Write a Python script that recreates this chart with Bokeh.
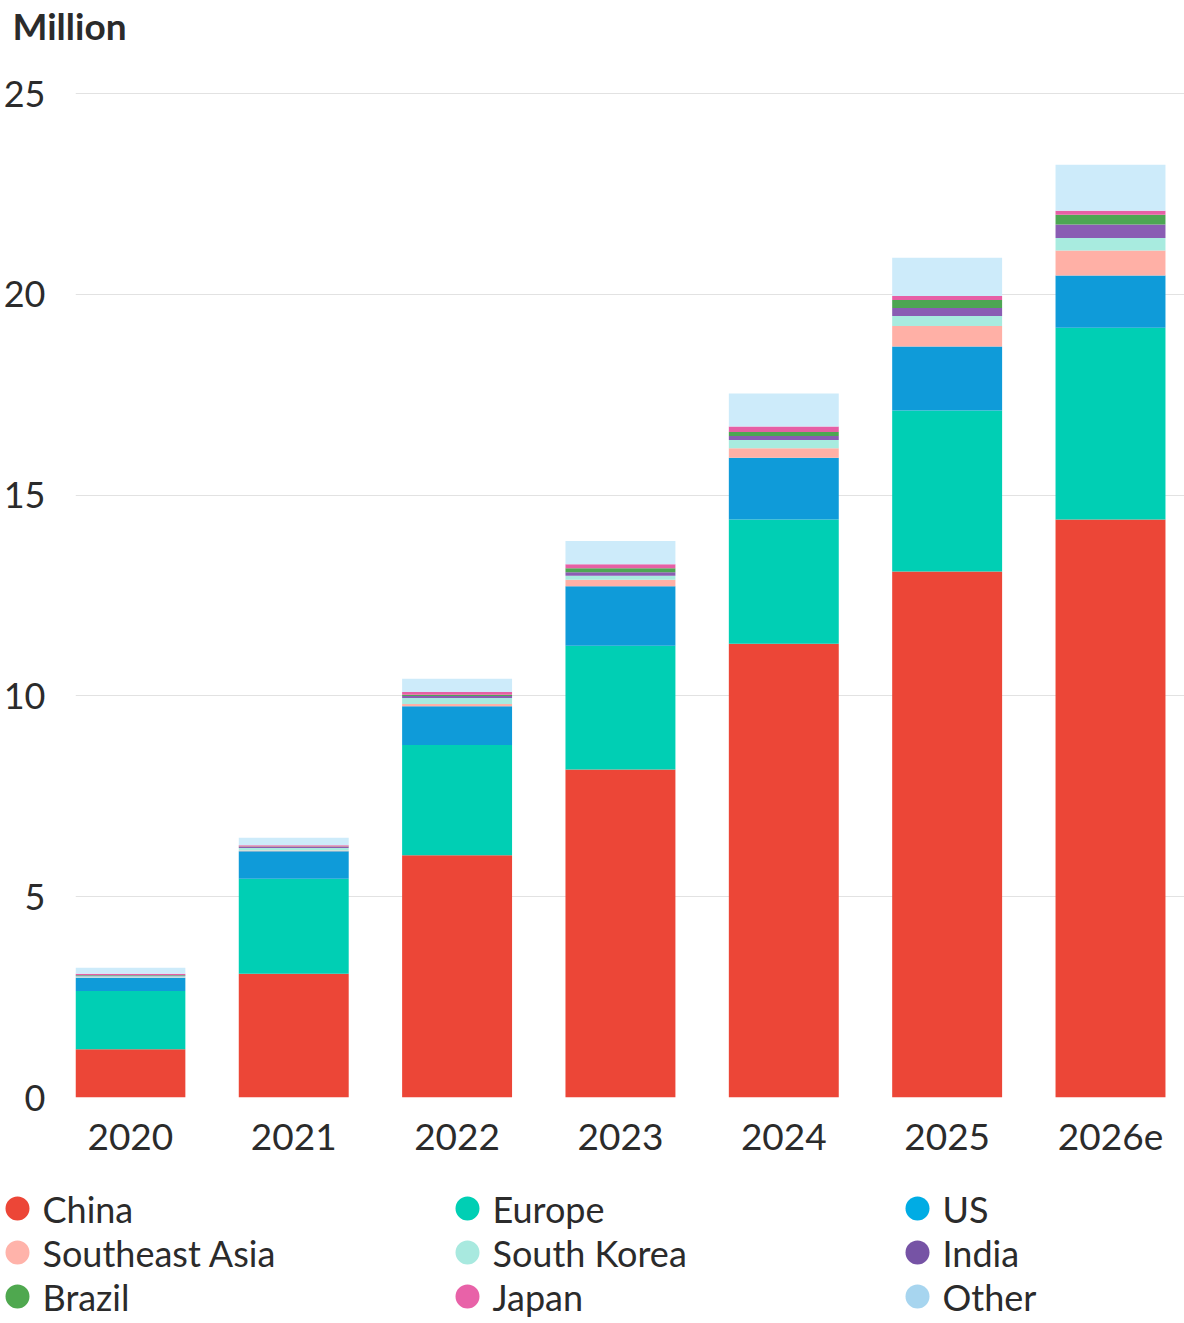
from bokeh.plotting import figure
from bokeh.models import Range1d, FixedTicker, ColumnDataSource
from bokeh.core.properties import value
from bokeh.embed import file_html
from bokeh.resources import INLINE

years = ["2020", "2021", "2022", "2023", "2024", "2025", "2026e"]
china = [1.20, 3.08, 6.03, 8.17, 11.30, 13.10, 14.39]
europe = [1.45, 2.37, 2.75, 3.08, 3.09, 4.01, 4.78]
us = [0.33, 0.68, 0.96, 1.48, 1.54, 1.59, 1.30]
southeast_asia = [0.01, 0.02, 0.06, 0.16, 0.24, 0.51, 0.62]
south_korea = [0.03, 0.06, 0.15, 0.10, 0.20, 0.25, 0.31]
india = [0.02, 0.03, 0.05, 0.09, 0.10, 0.20, 0.34]
brazil = [0.01, 0.01, 0.03, 0.10, 0.10, 0.20, 0.24]
japan = [0.03, 0.03, 0.07, 0.10, 0.14, 0.10, 0.10]
other = [0.15, 0.19, 0.33, 0.58, 0.82, 0.95, 1.15]

series_names = ["China", "Europe", "US", "Southeast Asia", "South Korea",
                "India", "Brazil", "Japan", "Other"]
bar_colors = ["#EC4637", "#00CFB4", "#0F9BD9", "#FFB0A6", "#A8EBDF",
              "#8A5DB3", "#4DA653", "#E65FA5", "#CDEBFA"]
legend_colors = ["#EC4637", "#00CFB4", "#00ACE4", "#FFB3AA", "#A8E9DF",
                 "#7653A5", "#4FA84F", "#E862A8", "#A7D5EF"]
y_ticks = [0, 5, 10, 15, 20, 25]
unit_label = "Million"

FONT = "Lato"
TXT = "#2b2b2b"

keys = ["china", "europe", "us", "southeast_asia", "south_korea",
        "india", "brazil", "japan", "other"]
data = dict(x=list(range(len(years))), china=china, europe=europe, us=us,
            southeast_asia=southeast_asia, south_korea=south_korea,
            india=india, brazil=brazil, japan=japan, other=other)
src = ColumnDataSource(data)

# header strip with the unit caption
hdr = figure(width=1184, height=60, output_backend="svg", toolbar_location=None,
             x_range=Range1d(0, 1184), y_range=Range1d(60, 0),
             x_axis_type=None, y_axis_type=None, min_border=0)
hdr.grid.visible = False
hdr.outline_line_color = None
hdr.text(x=[12], y=[25], text=[unit_label], text_font=value(FONT),
         text_font_size="37px", text_font_style="bold", text_color=TXT,
         text_baseline="middle")

p = figure(width=1184, height=1110, output_backend="svg", toolbar_location=None,
           x_range=Range1d(-0.336, 6.453), y_range=Range1d(0, 25.3),
           min_border_left=74, min_border_right=0, min_border_top=21,
           min_border_bottom=73)
p.vbar_stack(keys, x="x", width=0.673, source=src, color=bar_colors,
             line_color=None)

p.outline_line_color = None
p.xgrid.grid_line_color = None
p.ygrid.grid_line_color = "#e2e2e2"
p.ygrid.ticker = FixedTicker(ticks=y_ticks)

p.yaxis.ticker = FixedTicker(ticks=y_ticks)
p.yaxis.axis_line_color = None
p.yaxis.major_tick_line_color = None
p.yaxis.minor_tick_line_color = None
p.yaxis.major_label_text_font = FONT
p.yaxis.major_label_text_font_size = "36px"
p.yaxis.major_label_text_color = TXT
p.yaxis.major_label_standoff = 24

p.xaxis.ticker = FixedTicker(ticks=list(range(len(years))))
p.xaxis.major_label_overrides = {i: y for i, y in enumerate(years)}
p.xaxis.axis_line_color = None
p.xaxis.major_tick_line_color = None
p.xaxis.minor_tick_line_color = None
p.xaxis.major_label_text_font = FONT
p.xaxis.major_label_text_font_size = "37px"
p.xaxis.major_label_text_color = TXT
p.xaxis.major_label_standoff = 20

# Legend strip: 3 columns, row-major order
lx, ly, lt, lc = [], [], [], []
for k, name in enumerate(series_names):
    col, row = k % 3, k // 3
    lx.append(17 + 450 * col)
    ly.append(38 + 44 * row)
    lt.append(name)
    lc.append(legend_colors[k])
lsrc = ColumnDataSource(dict(x=lx, y=ly, tx=[v + 25 for v in lx], t=lt, c=lc))

lg = figure(width=1184, height=150, output_backend="svg", toolbar_location=None,
            x_range=Range1d(0, 1184), y_range=Range1d(150, 0),
            x_axis_type=None, y_axis_type=None, min_border=0)
lg.grid.visible = False
lg.outline_line_color = None
lg.scatter("x", "y", source=lsrc, size=24, color="c", line_color=None)
lg.text("tx", "y", text="t", source=lsrc, text_font=value(FONT),
        text_font_size="36px", text_color=TXT, text_baseline="middle")

open("out.html", "w").write(file_html([hdr, p, lg], INLINE))
